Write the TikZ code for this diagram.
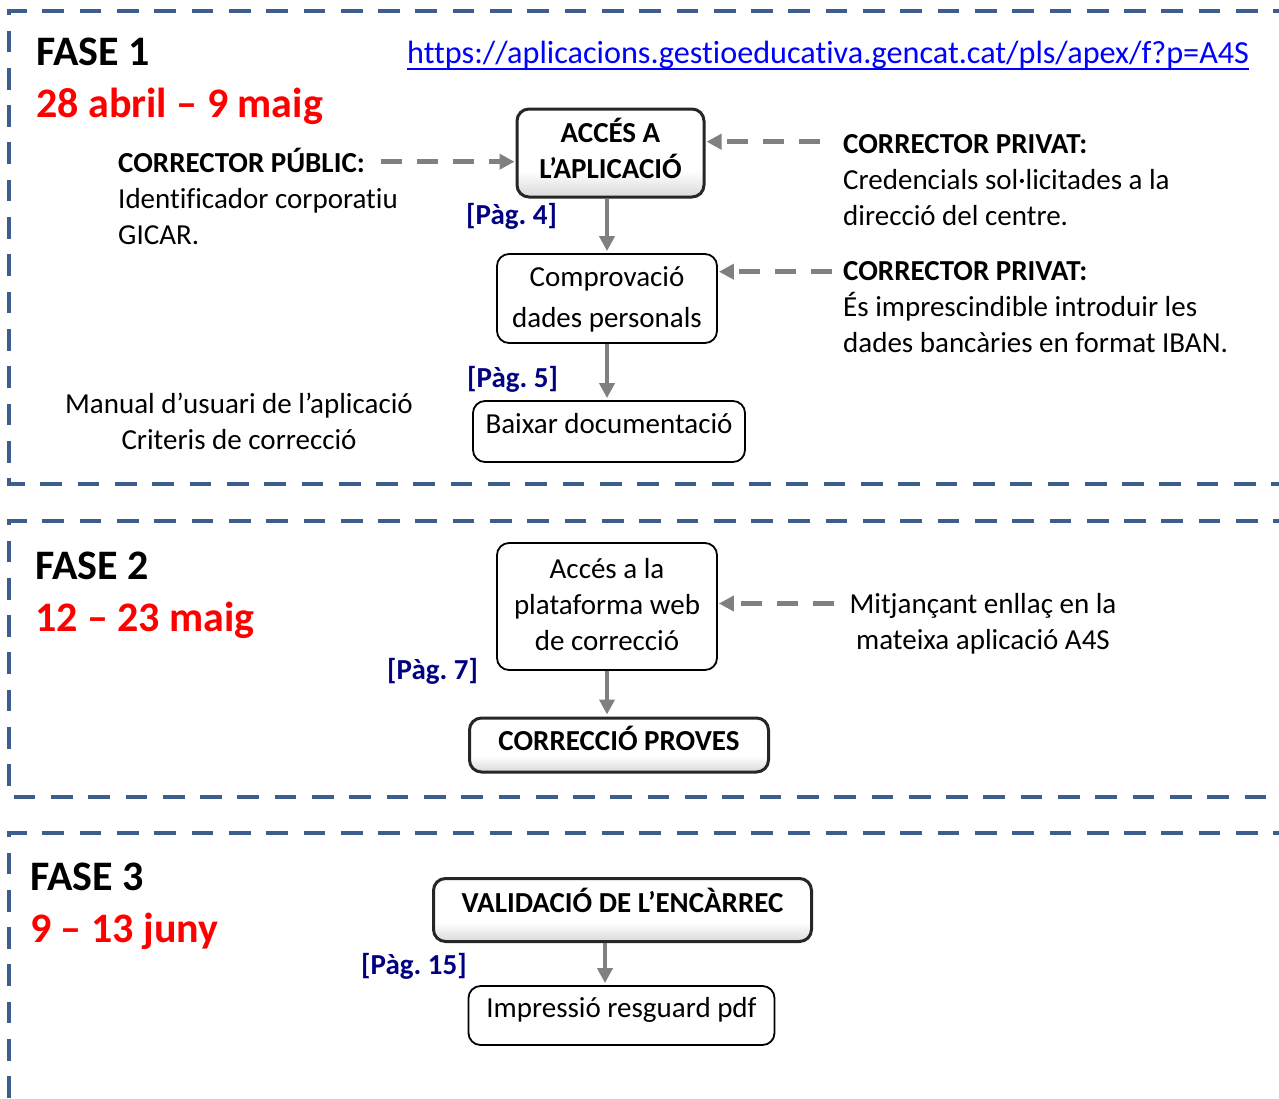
\documentclass[tikz,border=0pt]{standalone}
\usepackage{fontspec}
\setmainfont{Carlito}[Ligatures=NoCommon]
\usetikzlibrary{arrows.meta}
\definecolor{framebl}{RGB}{59,94,140}
\definecolor{arrgray}{RGB}{128,128,128}
\definecolor{pagnavy}{RGB}{0,0,128}
\definecolor{urlblue}{RGB}{0,0,255}
\definecolor{datered}{RGB}{255,0,0}
\newcommand\bodyfont{\fontsize{29}{36}\selectfont}
\newcommand\urlfont{\fontsize{32.2}{36}\selectfont}
\newcommand\headfont{\fontsize{42}{50}\selectfont\bfseries}
\newcommand\lft[1]{\begin{tabular}[t]{@{}l@{}}#1\end{tabular}}
\newcommand\ctr[1]{\begin{tabular}[t]{@{}c@{}}#1\end{tabular}}
\pgfdeclareverticalshading{boxshade}{100bp}{color(0bp)=(black!60); color(15bp)=(black!25); color(40bp)=(white); color(100bp)=(white)}
\frenchspacing
\begin{document}
\frenchspacing
\begin{tikzpicture}[x=1pt,y=-1pt,
  every node/.style={font=\bodyfont, inner sep=0pt},
  frame/.style={draw=framebl, line width=4pt, dash pattern=on 21.7pt off 15.6pt},
  txt/.style={anchor=base west},
  head/.style={anchor=base west, font=\headfont},
  datetxt/.style={anchor=base west, font=\headfont, text=datered},
  pag/.style={anchor=base west, font=\bodyfont\bfseries, text=pagnavy},
  plainbox/.style={draw=black, line width=1.8pt, rounded corners=12pt, fill=white, text height=20pt},
  boldbox/.style={draw=black!85, line width=3pt, rounded corners=12pt, shade, shading=boxshade, font=\bodyfont\bfseries, text height=20pt},
  arr/.style={draw=arrgray, line width=4.5pt, -{Triangle[length=15pt,width=15pt]}, shorten >=2pt},
  darr/.style={arr, dash pattern=on 21pt off 15pt, shorten >=1pt}]
\useasboundingbox (0,0) rectangle (1279,1098);
\clip (0,0) rectangle (1279,1098);
\fill[white] (0,0) rectangle (1279,1098);

% frames
\draw[frame] (1295,11) -- (9,11) -- (9,484) -- (1295,484);
\draw[frame] (1295,521) -- (9,521) -- (9,797) -- (1295,797);
\draw[frame] (1295,833) -- (9,833) -- (9,1115);

% FASE 1
\node[head] (fase1) at (36,65) {FASE 1};
\node[datetxt] (date1) at (36,117) {28 abril – 9 maig};
\node[txt, text=urlblue, font=\urlfont] (url) at (407,63) {https://aplicacions.gestioeducativa.gencat.cat/pls/apex/f?p=A4S};
\draw[urlblue, line width=2.2pt] ([yshift=-6pt]url.base west) -- ([yshift=-6pt]url.base east);

\node[boldbox, minimum width=187, minimum height=88, text depth=42pt] (acc) at (610.5,153) {\ctr{ACCÉS A\\L’APLICACIÓ}};
\node[plainbox, minimum width=220, minimum height=89, text depth=43.6pt] (comp) at (607,298.5) {\ctr{Comprovació\\[5pt]dades personals}};
\node[plainbox, minimum width=272, minimum height=61, text depth=17pt] (baix) at (609,431.5) {Baixar documentació};

\node[txt] (pub) at (118,172) {\lft{\textbf{CORRECTOR PÚBLIC:}\\Identificador corporatiu\\GICAR.}};
\node[txt] (priv1) at (843,153.5) {\lft{\textbf{CORRECTOR PRIVAT:}\\Credencials sol·licitades a la\\direcció del centre.}};
\node[txt] (priv2) at (843,280.5) {\lft{\textbf{CORRECTOR PRIVAT:}\\És imprescindible introduir les\\dades bancàries en format IBAN.}};
\node[pag] (pag4) at (466,224) {[Pàg. 4]};
\node[pag] (pag5) at (467,387) {[Pàg. 5]};
\node[anchor=base] (manual) at (239,413.5) {\ctr{Manual d’usuari de l’aplicació\\Criteris de correcció}};

\coordinate (pubS) at (381,161.7);
\coordinate (priv1S) at (820,141.7);
\coordinate (priv2S) at (832,271.7);
\draw[darr] (pubS) -- (pubS -| acc.west);
\draw[darr] (priv1S) -- (priv1S -| acc.east);
\draw[darr] (priv2S) -- (priv2S -| comp.east);
\draw[arr] (acc.south -| comp.north) -- (comp.north);
\draw[arr] (comp.south) -- (comp.south |- baix.north);

% FASE 2
\node[head] (fase2) at (35,579) {FASE 2};
\node[datetxt] (date2) at (35,631) {12 – 23 maig};
\node[plainbox, minimum width=220, minimum height=127, text depth=76pt] (plat) at (607,606.5) {\ctr{Accés a la\\plataforma web\\de correcció}};
\node[boldbox, minimum width=299, minimum height=54, text depth=10pt] (corr) at (619,745) {CORRECCIÓ PROVES};
\node[anchor=base] (mitj) at (983,613) {\ctr{Mitjançant enllaç en la\\mateixa aplicació A4S}};
\node[pag] (pag7) at (387,679) {[Pàg. 7]};
\coordinate (mitjS) at (834,603.5);
\draw[darr] (mitjS) -- (mitjS -| plat.east);
\draw[arr] (plat.south) -- (plat.south |- corr.north);

% FASE 3
\node[head] (fase3) at (30,890) {FASE 3};
\node[datetxt] (date3) at (30,942) {9 – 13 juny};
\node[boldbox, minimum width=378, minimum height=63, text depth=16pt] (valid) at (622.5,910) {VALIDACIÓ DE L’ENCÀRREC};
\node[plainbox, minimum width=306, minimum height=59, text depth=17pt] (impr) at (621.5,1015.5) {Impressió resguard pdf};
\node[pag] (pag15) at (361,974) {[Pàg. 15]};
\draw[arr] ([xshift=-17.5pt]valid.south) -- ([xshift=-17.5pt]valid.south |- impr.north);
\end{tikzpicture}
\end{document}
